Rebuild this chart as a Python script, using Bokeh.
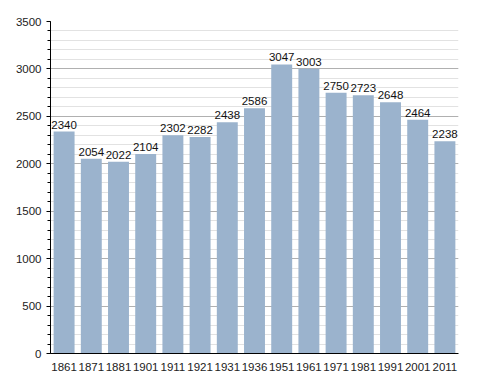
from bokeh.plotting import figure
from bokeh.models import ColumnDataSource, FixedTicker, Range1d, LabelSet
from bokeh.core.properties import value
from bokeh.embed import file_html
from bokeh.resources import INLINE

years = ["1861", "1871", "1881", "1901", "1911", "1921", "1931", "1936",
         "1951", "1961", "1971", "1981", "1991", "2001", "2011"]
population = [2340, 2054, 2022, 2104, 2302, 2282, 2438, 2586,
              3047, 3003, 2750, 2723, 2648, 2464, 2238]
yticks = [0, 500, 1000, 1500, 2000, 2500, 3000, 3500]

src = ColumnDataSource(dict(x=years, y=population, lab=[str(v) for v in population]))

p = figure(x_range=years, y_range=Range1d(0, 3500), width=480, height=373,
           output_backend="svg", toolbar_location=None,
           min_border_left=50, min_border_right=22, min_border_top=21, min_border_bottom=0)
p.outline_line_color = None
p.background_fill_color = "white"
p.border_fill_color = "white"

p.vbar(x="x", top="y", width=0.77, source=src, fill_color="#9bb3cd", line_color=None)

labels = LabelSet(x="x", y="y", text="lab", source=src, text_align="center",
                  text_baseline="bottom", y_offset=3, text_font_size="11.5px",
                  text_font=value("Liberation Sans"), text_color="#111111")
p.add_layout(labels)

p.yaxis.ticker = FixedTicker(ticks=yticks, minor_ticks=list(range(0, 3501, 100)))
p.yaxis.major_label_text_font = "Liberation Sans"
p.yaxis.major_label_text_font_size = "11.5px"
p.yaxis.major_label_text_color = "#222222"
p.yaxis.axis_line_color = "black"
p.yaxis.major_tick_line_color = "black"
p.yaxis.major_tick_out = 4
p.yaxis.major_tick_in = 0
p.yaxis.minor_tick_line_color = "black"
p.yaxis.minor_tick_out = 3
p.yaxis.minor_tick_in = 0
p.yaxis.major_label_standoff = 5

p.xaxis.major_label_text_font = "Liberation Sans"
p.xaxis.major_label_text_font_size = "11.5px"
p.xaxis.major_label_text_color = "#222222"
p.xaxis.axis_line_color = "black"
p.xaxis.major_tick_line_color = None
p.xaxis.minor_tick_line_color = None
p.xaxis.major_label_standoff = 3

p.xgrid.grid_line_color = None
p.ygrid.grid_line_color = "#b0b0b0"
p.ygrid.minor_grid_line_color = "#e2e2e2"
p.ygrid.level = "underlay"

p.x_range.range_padding = 0.0

open("out.html", "w").write(file_html(p, INLINE))
